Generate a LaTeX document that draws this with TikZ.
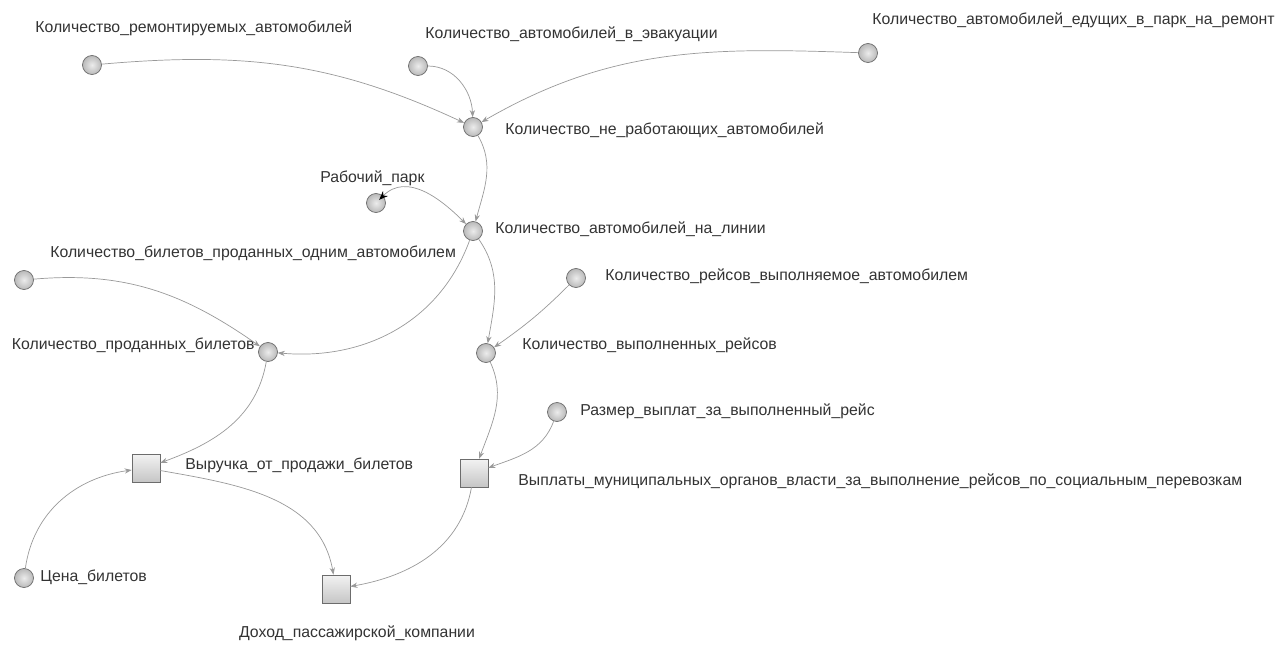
\documentclass[tikz,border=0pt]{standalone}
\usepackage{fontspec}
\setmainfont{Liberation Sans}
\usetikzlibrary{arrows.meta}

\tikzset{
  var/.style={draw=gray!85!black, circle, inner sep=0, minimum size=0.38cm,
    inner color=gray!15, outer color=gray!55},
  aux/.style={draw=gray!85!black, rectangle, inner sep=0, minimum size=0.56cm,
    top color=gray!10, bottom color=gray!45},
  txt/.style={inner sep=0, text=black!80, font=\fontsize{9}{10}\selectfont},
  link/.style={draw=gray!80, -{Stealth[length=4pt,width=3pt]}}
}

\begin{document}
\begin{tikzpicture}[x=0.02cm,y=0.02cm]

  \useasboundingbox (0,0) rectangle (1286,-649);

  \node (remont) at (92,-65) [var]{};
  \node (evak) at (418,-66) [var]{};
  \node (edush) at (868,-53) [var]{};
  \node (nerab) at (473,-127) [var]{};
  \node (rabpark) at (376,-203) [var]{};
  \node (naline) at (473,-231) [var]{};
  \node (bilodn) at (24,-280) [var]{};
  \node (rejsvyp) at (576,-278) [var]{};
  \node (prodbil) at (268,-352) [var]{};
  \node (vypreis) at (486,-353) [var]{};
  \node (razmer) at (557,-412) [var]{};
  \node (cena) at (24,-578) [var]{};

  \node (vyruchka) at (146,-468) [aux]{};
  \node (vyplaty) at (474,-473) [aux]{};
  \node (dohod) at (336,-589) [aux]{};

  % labels
  \node (remontl) at (35,-28) [txt,anchor=west]{Количество\_ремонтируемых\_автомобилей};
  \node (evakl) at (425,-34) [txt,anchor=west]{Количество\_автомобилей\_в\_эвакуации};
  \node (edushl) at (872,-20) [txt,anchor=west]{Количество\_автомобилей\_едущих\_в\_парк\_на\_ремонт};
  \node (nerabl) at (505,-130) [txt,anchor=west]{Количество\_не\_работающих\_автомобилей};
  \node (rabparkl) at (320,-178) [txt,anchor=west]{Рабочий\_парк};
  \node (nalinel) at (495,-229) [txt,anchor=west]{Количество\_автомобилей\_на\_линии};
  \node (bilodnl) at (50,-253) [txt,anchor=west]{Количество\_билетов\_проданных\_одним\_автомобилем};
  \node (rejsvypl) at (605,-276) [txt,anchor=west]{Количество\_рейсов\_выполняемое\_автомобилем};
  \node (prodbill) at (255,-345) [txt,anchor=east]{Количество\_проданных\_билетов};
  \node (vypreisl) at (522,-345) [txt,anchor=west]{Количество\_выполненных\_рейсов};
  \node (razmerl) at (580,-411) [txt,anchor=west]{Размер\_выплат\_за\_выполненный\_рейс};
  \node (vyruchkal) at (185,-465) [txt,anchor=west]{Выручка\_от\_продажи\_билетов};
  \node (vyplatyl) at (518,-481) [txt,anchor=west]{Выплаты\_муниципальных\_органов\_власти\_за\_выполнение\_рейсов\_по\_социальным\_перевозкам};
  \node (cenal) at (40,-577) [txt,anchor=west]{Цена\_билетов};
  \node (dohodl) at (357,-633) [txt]{Доход\_пассажирской\_компании};

  % links
  \draw[link] (remont) to[out=5,in=155] (nerab);
  \draw[link] (evak) to[out=0,in=92] (nerab);
  \draw[link] (edush) to[out=178,in=30] (nerab);
  \draw[link] (nerab) to[out=-60,in=75] (naline);
  \draw[link,shorten <=-3pt,{Stealth[black,length=5pt,width=4pt]}-{Stealth[length=4pt,width=3pt]}] (rabpark) to[out=45,in=135] (naline);
  \draw[link] (naline) to[out=-110,in=-5] (prodbil);
  \draw[link] (naline) to[out=-55,in=80] (vypreis);
  \draw[link] (rejsvyp) to[out=-135,in=35] (vypreis);
  \draw[link] (bilodn) to[out=5,in=145] (prodbil);
  \draw[link] (prodbil) to[out=-100,in=20] (vyruchka);
  \draw[link] (vypreis) to[out=-65,in=70] (vyplaty);
  \draw[link] (razmer) to[out=-110,in=20] (vyplaty);
  \draw[link] (cena) to[out=82,in=188] (vyruchka);
  \draw[link] (vyruchka) to[out=-10,in=100] (dohod);
  \draw[link] (vyplaty) to[out=-100,in=10] (dohod);

\end{tikzpicture}
\end{document}
